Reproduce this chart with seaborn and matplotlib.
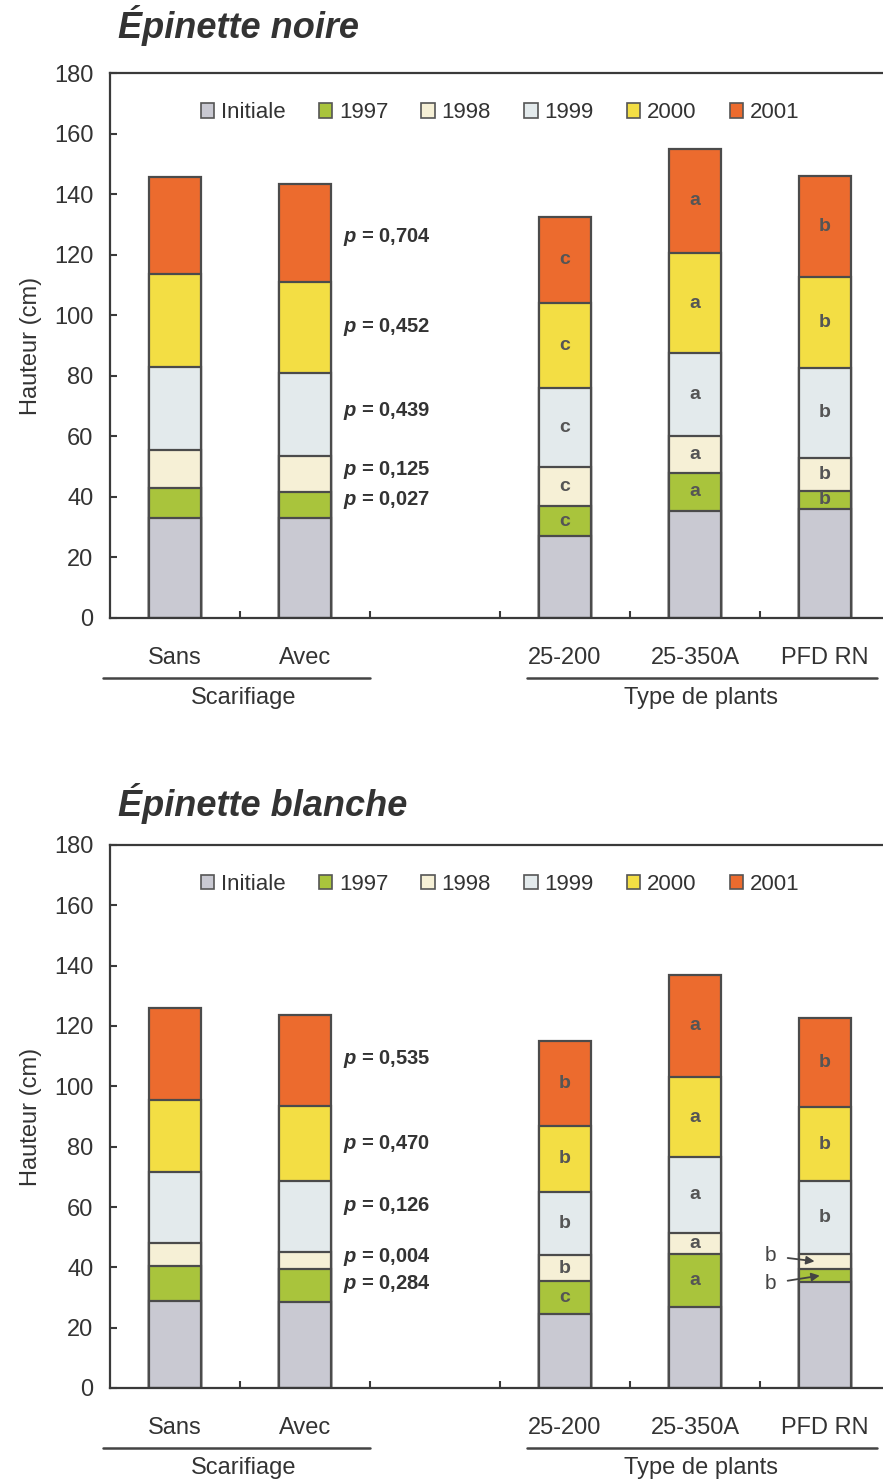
import numpy as np
import pandas as pd
import matplotlib
matplotlib.use("Agg")
import matplotlib.pyplot as plt
import matplotlib.transforms as mtransforms
from matplotlib.patches import Patch
import seaborn as sns

# ---------------------------------------------------------------- data
categories = ["Sans", "Avec", "25-200", "25-350A", "PFD RN"]
slot_order = ["Sans", "Avec", " ", "25-200", "25-350A", "PFD RN"]
series = ["Initiale", "1997", "1998", "1999", "2000", "2001"]

# Épinette noire: height gained in each period (cm)
noire_initiale = [33.0, 33.0, 27.0, 35.5, 36.0]
noire_1997 = [10.0, 8.5, 10.0, 12.5, 6.0]
noire_1998 = [12.5, 12.0, 13.0, 12.0, 11.0]
noire_1999 = [27.5, 27.5, 26.0, 27.5, 29.5]
noire_2000 = [30.5, 30.0, 28.0, 33.0, 30.0]
noire_2001 = [32.0, 32.5, 28.5, 34.5, 33.5]

# Épinette blanche: height gained in each period (cm)
blanche_initiale = [29.0, 28.5, 24.5, 27.0, 35.0]
blanche_1997 = [11.5, 11.0, 11.0, 17.5, 4.5]
blanche_1998 = [7.5, 5.5, 8.5, 7.0, 5.0]
blanche_1999 = [23.5, 23.5, 21.0, 25.0, 24.0]
blanche_2000 = [24.0, 25.0, 22.0, 26.5, 24.5]
blanche_2001 = [30.5, 30.0, 28.0, 34.0, 29.5]

# p-values of the scarification effect, 1997 -> 2001
noire_pvalues = ["0,027", "0,125", "0,439", "0,452", "0,704"]
blanche_pvalues = ["0,284", "0,004", "0,126", "0,470", "0,535"]

# multiple-comparison letters by seedling type, 1997 -> 2001
noire_letters = {
    "25-200": ["c", "c", "c", "c", "c"],
    "25-350A": ["a", "a", "a", "a", "a"],
    "PFD RN": ["b", "b", "b", "b", "b"],
}
blanche_letters = {
    "25-200": ["c", "b", "b", "b", "b"],
    "25-350A": ["a", "a", "a", "a", "a"],
    "PFD RN": ["b", "b", "b", "b", "b"],
}

colors = ["#c9c9d2", "#a9c43c", "#f6f0d6", "#e3eaec", "#f3de44", "#ec6b2e"]
edge = "#4b4b4b"
ink = "#333333"

# ---------------------------------------------------------------- style
sns.set_style("ticks")
plt.rcParams["font.family"] = ["Liberation Sans", "DejaVu Sans"]
plt.rcParams["mathtext.fontset"] = "custom"
plt.rcParams["mathtext.it"] = "Liberation Sans:italic:bold"
plt.rcParams["mathtext.rm"] = "Liberation Sans:bold"

W, H = 883, 1483
fig = plt.figure(figsize=(W / 100, H / 100), dpi=100)
fig.patch.set_facecolor("white")


def panel(top_px, bottom_px, title, title_y_px, segs, pvalues, letters,
          p_nudge, callouts):
    left_px, right_px = 110, 890
    ax = fig.add_axes([left_px / W, (H - bottom_px) / H,
                       (right_px - left_px) / W, (bottom_px - top_px) / H])

    df = pd.DataFrame(dict(zip(series, segs)), index=categories)
    cum = df.cumsum(axis=1)

    # stacked bars: draw cumulative totals from the tallest down
    for name, col in reversed(list(zip(series, colors))):
        sns.barplot(x=categories, y=cum[name].values, order=slot_order,
                    color=col, saturation=1, width=0.4, errorbar=None,
                    edgecolor=edge, linewidth=1.6, ax=ax)

    ax.set_xlim(-0.5, 5.5)
    ax.set_ylim(0, 180)
    ax.set_yticks(np.arange(0, 181, 20))
    ax.set_xlabel("")
    ax.set_ylabel("Hauteur (cm)", fontsize=17, color=ink)
    ax.yaxis.set_label_coords(-0.087, 0.5)

    for s in ax.spines.values():
        s.set_color("#3a3a3a")
        s.set_linewidth(1.6)
    ax.tick_params(axis="y", direction="in", length=5, width=1.5,
                   labelsize=17, labelcolor=ink, pad=12, color="#3a3a3a")
    ax.tick_params(axis="x", which="major", length=0, labelsize=17,
                   labelcolor=ink, pad=21)
    ax.set_xticks(np.arange(0.5, 5.6, 1.0), minor=True)
    ax.tick_params(axis="x", which="minor", direction="in", length=5,
                   width=1.5, color="#3a3a3a")

    # legend
    handles = [Patch(facecolor=c, edgecolor="#555555", linewidth=1.2)
               for c in colors]
    ax.legend(handles, series, loc="center", bbox_to_anchor=(0.5, 0.927),
              ncol=6, frameon=False, fontsize=16, handlelength=0.6,
              handleheight=0.6, handletextpad=0.3, columnspacing=1.5,
              labelcolor=ink)

    # p-values next to the second bar
    avec = cum.loc["Avec"].values
    mids = (avec[:-1] + avec[1:]) / 2
    for txt, y, dy in zip(pvalues, mids, p_nudge):
        ax.text(1.29, y + dy, r"$p$ = " + txt, fontsize=14.5,
                fontweight="bold", color=ink, ha="left", va="center")

    # letters in the bar segments
    for cat, labs in letters.items():
        x = slot_order.index(cat)
        tops = cum.loc[cat].values
        for k, lab in enumerate(labs):
            lo, hi = tops[k], tops[k + 1]
            mid = (lo + hi) / 2
            if (cat, series[k + 1]) in callouts:
                dy = callouts[(cat, series[k + 1])]
                ax.annotate(lab, xy=(x - 0.08 + 0.04 * (dy < 0), mid),
                            xytext=(x - 0.42, mid + dy), fontsize=15,
                            color="#444444", ha="center", va="center",
                            arrowprops=dict(arrowstyle="-|>", color="#444444",
                                            lw=1.3, mutation_scale=12,
                                            shrinkA=6, shrinkB=0))
            else:
                ax.text(x, mid, lab, fontsize=14, fontweight="bold",
                        color="#555555", ha="center", va="center")

    # grouping rules and captions under the categories
    trans = mtransforms.blended_transform_factory(ax.transData, ax.transAxes)
    h = bottom_px - top_px
    y_rule = -60 / h
    y_cap = -80 / h
    ax.plot([-0.555, 1.5], [y_rule, y_rule], color="#444444", lw=1.8,
            transform=trans, clip_on=False)
    ax.plot([2.71, 5.4], [y_rule, y_rule], color="#444444", lw=1.8,
            transform=trans, clip_on=False)
    ax.text(0.53, y_cap, "Scarifiage", transform=trans, fontsize=17,
            color=ink, ha="center", va="center")
    ax.text(4.05, y_cap, "Type de plants", transform=trans, fontsize=17,
            color=ink, ha="center", va="center")

    fig.text(118 / W, 1 - title_y_px / H, title, fontsize=26,
             fontweight="bold", fontstyle="italic", color=ink,
             ha="left", va="center")
    return ax


panel(73, 618, "Épinette noire", 25,
      [noire_initiale, noire_1997, noire_1998, noire_1999, noire_2000,
       noire_2001],
      noire_pvalues, noire_letters,
      p_nudge=[1.7, 1.5, 1.0, 0.0, -1.5], callouts={})

panel(845, 1388, "Épinette blanche", 803,
      [blanche_initiale, blanche_1997, blanche_1998, blanche_1999,
       blanche_2000, blanche_2001],
      blanche_pvalues, blanche_letters,
      p_nudge=[0.5, 1.2, 3.5, 0.0, 0.5],
      callouts={("PFD RN", "1998"): 1.8, ("PFD RN", "1997"): -2.6})

fig.savefig("out.png", dpi=100, facecolor="white")
